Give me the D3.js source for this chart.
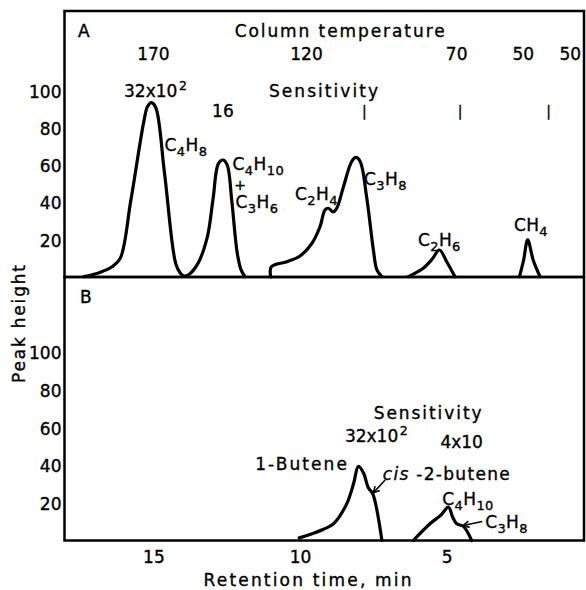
<!DOCTYPE html>
<html><head><meta charset="utf-8">
<script src="https://cdn.jsdelivr.net/npm/d3@7"></script>
<style>html,body{margin:0;padding:0;background:#fff;} svg{display:block;font-family:'DejaVu Sans',sans-serif;} text{stroke:#000;stroke-width:0.35px;}</style>
</head><body><svg id="c" width="586" height="590"></svg>
<script>
// ---------- data ----------
const yTicks = [20, 40, 60, 80, 100];
const xTicks = [15, 10, 5];

// Panel A chromatogram traces (retention time min, peak height)
const a1Time   = [17.36, 16.8, 16.41, 16.13, 15.77, 15.32, 15.2, 15.07, 14.92, 14.62, 14.24, 14.08, 13.96, 13.8, 13.48, 13.16, 12.97, 12.78, 12.62, 12.48, 12.33, 12.14, 12.01, 11.88];
const a1Height = [0.2, 2.6, 5.5, 10, 41, 84, 91.5, 93.6, 91, 55.7, 7.3, 2, 0.5, 1.2, 7.3, 21.6, 41.3, 61, 62.8, 60, 41.3, 12.7, 3.8, 0.2];
const a2Time   = [11.0, 10.98, 10.45, 10.0, 9.6, 9.32, 9.15, 9.03, 8.88, 8.75, 8.52, 8.24, 8.1, 7.95, 7.73, 7.5, 7.38, 7.21];
const a2Height = [0, 5.5, 8.2, 11.3, 18, 27, 36, 36.9, 35, 36.9, 48.5, 62, 64.2, 62, 43, 14.5, 3.8, 0.2];
const a3Time   = [6.31, 5.8, 5.5, 5.25, 5.0, 4.72];
const a3Height = [0.2, 4.7, 9.5, 14.5, 8.2, 0.2];
const a4Time   = [2.52, 2.38, 2.24, 2.05, 1.82];
const a4Height = [0.2, 9, 19.9, 9, 0.2];

// Panel B traces
const b1Time   = [10.03, 9.66, 9.2, 8.86, 8.41, 8.18, 8.01, 7.84, 7.67, 7.52, 7.21];
const b1Height = [1.4, 3.2, 6, 8.9, 19.5, 30, 39.4, 36, 28, 24.8, 0];
const b2Time   = [6.14, 5.57, 5.2, 4.94, 4.8, 4.66, 4.43, 4.15];
const b2Height = [0, 8.9, 13.5, 17.7, 12.5, 8.9, 7.5, 0];

// Column temperatures (panel A header)
const tempLabels = ["170", "120", "70", "50", "50"];
const tempTimes  = [15.0, 9.78, 4.66, 2.39, 0.79];
// Sensitivity marks in panel A
const sensMarkTimes = [7.81, 4.54, 1.53];

// Peak labels: [parts, time, height]  (parts: [text, isSubscript])
const peakLabelsA = [
  [[["C",0],["4",1],["H",0],["8",1]], 14.62, 67.7],
  [[["C",0],["4",1],["H",0],["10",1]], 12.3, 57.4],
  [[["C",0],["3",1],["H",0],["6",1]], 12.2, 37],
  [[["C",0],["2",1],["H",0],["4",1]], 10.17, 41.3],
  [[["C",0],["3",1],["H",0],["8",1]], 7.82, 49.4],
  [[["C",0],["2",1],["H",0],["6",1]], 5.98, 16.6],
  [[["C",0],["H",0],["4",1]], 2.71, 24.7]
];
const peakLabelsB = [
  [[["C",0],["4",1],["H",0],["10",1]], 5.15, 18.9],
  [[["C",0],["3",1],["H",0],["8",1]], 3.69, 6.6]
];
// Arrows in panel B: [fromTime, fromHeight, toTime, toHeight]
const arrowsB = [
  [7.10, 32.2, 7.50, 25.4],
  [3.79, 10.1, 4.44, 8.0]
];

// ---------- layout ----------
const svg = d3.select("#c");
const left = 64.5, right = 584, aTop = 11;
const x  = d3.scaleLinear().domain([18.03, 0.32]).range([left, right]);
const yA = d3.scaleLinear().domain([0, 100]).range([277, 90.75]);
const yB = d3.scaleLinear().domain([0, 100]).range([540.5, 352.5]);
const aBottom = yA(0), bBottom = yB(0);
const FS = 17;

function zip(t, h) { return t.map((d, i) => [d, h[i]]); }
function lineFor(y) {
  return d3.line().x(d => x(d[0])).y(d => y(d[1])).curve(d3.curveCatmullRom.alpha(0.5));
}

// frames
svg.append("rect").attr("x", left).attr("y", aTop).attr("width", right - left).attr("height", aBottom - aTop)
  .attr("fill", "none").attr("stroke", "#000").attr("stroke-width", 2.5);
svg.append("rect").attr("x", left).attr("y", aBottom).attr("width", right - left).attr("height", bBottom - aBottom)
  .attr("fill", "none").attr("stroke", "#000").attr("stroke-width", 2.5);

// axes
function styleAxis(g) {
  g.select(".domain").remove();
  g.attr("font-family", "'DejaVu Sans',sans-serif").attr("font-size", FS);
  g.selectAll("text").attr("fill", "#000");
}
svg.append("g").attr("transform", `translate(${left},0)`)
  .call(d3.axisLeft(yA).tickValues(yTicks).tickSize(0).tickPadding(3)).call(styleAxis)
  .selectAll("text").attr("dy", "0.38em");
svg.append("g").attr("transform", `translate(${left},0)`)
  .call(d3.axisLeft(yB).tickValues(yTicks).tickSize(0).tickPadding(3)).call(styleAxis)
  .selectAll("text").attr("dy", "0.38em");
svg.append("g").attr("transform", `translate(0,${bBottom})`)
  .call(d3.axisBottom(x).tickValues(xTicks).tickSize(0).tickPadding(10)).call(styleAxis);

// traces
[[a1Time, a1Height], [a2Time, a2Height], [a3Time, a3Height], [a4Time, a4Height]].forEach(([t, h]) => {
  svg.append("path").datum(zip(t, h)).attr("d", lineFor(yA))
    .attr("fill", "none").attr("stroke", "#000").attr("stroke-width", 3.2)
    .attr("stroke-linejoin", "round").attr("stroke-linecap", "round");
});
[[b1Time, b1Height], [b2Time, b2Height]].forEach(([t, h]) => {
  svg.append("path").datum(zip(t, h)).attr("d", lineFor(yB))
    .attr("fill", "none").attr("stroke", "#000").attr("stroke-width", 3.2)
    .attr("stroke-linejoin", "round").attr("stroke-linecap", "round");
});

// text helpers
function txt(px, py, s, opts = {}) {
  const t = svg.append("text").attr("x", px).attr("y", py).attr("font-size", opts.fs || FS)
    .attr("fill", "#000").attr("text-anchor", opts.anchor || "start").text(s);
  if (opts.len) t.attr("textLength", opts.len).attr("lengthAdjust", "spacing");
  if (opts.ls) t.attr("letter-spacing", opts.ls);
  return t;
}
function formula(px, py, parts) {
  const t = svg.append("text").attr("x", px).attr("y", py).attr("font-size", FS).attr("fill", "#000")
    .attr("letter-spacing", 0.4);
  let shifted = false;
  parts.forEach(([s, sub]) => {
    const ts = t.append("tspan").text(s);
    if (sub) { ts.attr("font-size", 13); if (!shifted) { ts.attr("dy", 5); shifted = true; } }
    else if (shifted) { ts.attr("dy", -5); shifted = false; }
  });
  return t;
}
function powerTen(px, py, base, exp) {
  const t = svg.append("text").attr("x", px).attr("y", py).attr("font-size", FS).attr("fill", "#000");
  t.append("tspan").text(base);
  t.append("tspan").attr("font-size", 12.5).attr("dy", -7).attr("dx", 1.5).text(exp);
  return t;
}

// panel letters
txt(78, 37, "A");
txt(80, 303, "B");

// panel A header
txt(x(8.65), yA(128.9), "Column temperature", { anchor: "middle", len: 210 });
tempLabels.forEach((s, i) => txt(x(tempTimes[i]), yA(116.5), s, { anchor: "middle" }));
txt(x(9.2), yA(96.9), "Sensitivity", { anchor: "middle", len: 109 });
powerTen(x(16.0), yA(96.9), "32x10", "2");
txt(x(12.63), yA(85.9), "16", { anchor: "middle" });
sensMarkTimes.forEach(t => txt(x(t), yA(86.6), "|", { anchor: "middle", fs: 14 }));

// panel A peak labels
peakLabelsA.forEach(([parts, t, h]) => formula(x(t), yA(h), parts));
txt(x(12.04), yA(46.7), "+", { anchor: "middle", fs: 14 });

// panel B header
txt(x(5.65), yB(64.6), "Sensitivity", { anchor: "middle", len: 108 });
powerTen(x(8.47), yB(52.2), "32x10", "2");
txt(x(4.49), yB(49.2), "4x10", { anchor: "middle" });

// panel B labels
txt(x(11.53), yB(37.5), "1-Butene", { len: 91.7 });
const cis = svg.append("text").attr("x", x(7.18)).attr("y", yB(32.2)).attr("font-size", FS)
  .attr("fill", "#000").attr("letter-spacing", 1.3);
cis.append("tspan").attr("font-style", "italic").text("cis");
cis.append("tspan").text(" -2-butene");
peakLabelsB.forEach(([parts, t, h]) => formula(x(t), yB(h), parts));

// arrows
const defs = svg.append("defs");
defs.append("marker").attr("id", "arr").attr("viewBox", "-8 -5 10 10").attr("refX", 0).attr("refY", 0)
  .attr("markerWidth", 10).attr("markerHeight", 10).attr("markerUnits", "userSpaceOnUse").attr("orient", "auto")
  .append("path").attr("d", "M-6,-3.2 L0,0 L-6,3.2").attr("fill", "none").attr("stroke", "#000").attr("stroke-width", 1.6);
arrowsB.forEach(([t0, h0, t1, h1]) => {
  svg.append("line").attr("x1", x(t0)).attr("y1", yB(h0)).attr("x2", x(t1)).attr("y2", yB(h1))
    .attr("stroke", "#000").attr("stroke-width", 1.6).attr("marker-end", "url(#arr)");
});

// axis titles
txt(307.5, 586, "Retention time, min", { anchor: "middle", len: 208 });
svg.append("text").attr("transform", "translate(25,324) rotate(-90)").attr("text-anchor", "middle")
  .attr("font-size", FS).attr("fill", "#000").attr("textLength", 118).attr("lengthAdjust", "spacing").text("Peak height");
</script></body></html>
